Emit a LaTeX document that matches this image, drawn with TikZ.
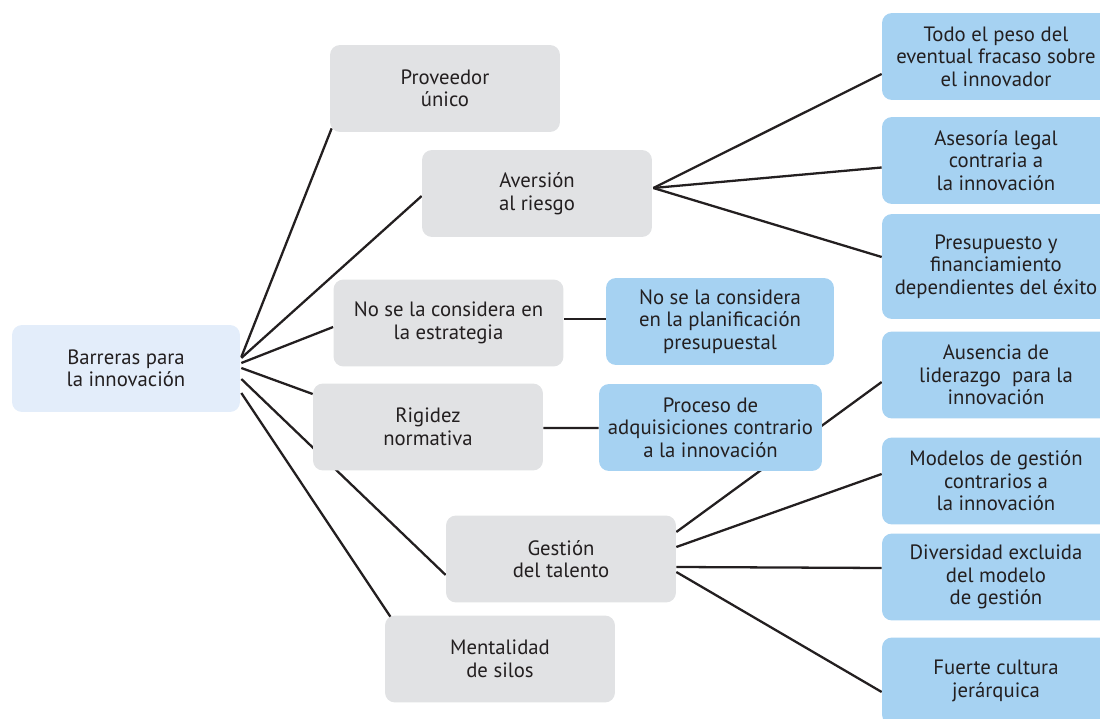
\documentclass[tikz,border=0pt]{standalone}
\usepackage{fontspec}
\setmainfont{PT Sans}
\usetikzlibrary{calc,backgrounds}
\definecolor{boxgray}{HTML}{E1E2E4}
\definecolor{boxblue}{HTML}{A6D2F2}
\definecolor{rootblue}{HTML}{E3EDFA}
\definecolor{inkgray}{HTML}{231F20}
\begin{document}
\begin{tikzpicture}[x=0.02cm,y=-0.02cm,
  box/.style={rounded corners=0.2cm, align=center, inner sep=0pt,
    minimum width=4.6cm, minimum height=1.74cm, text=inkgray,
    font=\fontsize{11.8}{12.8}\selectfont},
  graybox/.style={box, fill=boxgray},
  bluebox/.style={box, fill=boxblue, minimum width=4.56cm},
  link/.style={draw=inkgray, line width=1.3pt}]
\useasboundingbox (0,0) rectangle (1100,719);
\node[box, fill=rootblue, minimum width=4.56cm] (barr) at (126,368.5) {Barreras para\\la innovación};
\node[graybox] (prov) at (445,88.5) {Proveedor\\único};
\node[graybox] (avers) at (537,193.5) {Aversión\\al riesgo};
\node[graybox] (estr) at (448.5,323) {No se la considera en\\la estrategia};
\node[graybox] (rig) at (428,427) {Rigidez\\normativa};
\node[graybox] (gest) at (561,559) {Gestión\\del talento};
\node[graybox] (silos) at (500,659) {Mentalidad\\de silos};
\node[bluebox] (plan) at (720,321.5) {No se la considera\\en la planificación\\presupuestal};
\node[bluebox, minimum width=4.46cm] (proc) at (710.5,427.5) {Proceso de\\adquisiciones contrario\\a la innovación};
\node[bluebox] (todo) at (996,56.5) {Todo el peso del\\eventual fracaso sobre\\el innovador};
\node[bluebox] (ases) at (996,160.5) {Asesoría legal\\contraria a\\la innovación};
\node[bluebox, minimum height=2.1cm] (pres) at (996,266.5) {Presupuesto y\\financiamiento\\dependientes del éxito};
\node[bluebox] (aus) at (996,375) {Ausencia de\\liderazgo~ para la\\innovación};
\node[bluebox] (mod) at (996,481) {Modelos de gestión\\contrarios a\\la innovación};
\node[bluebox] (div) at (996,577) {Diversidad excluida\\del modelo\\de gestión};
\node[bluebox] (fue) at (996,681) {Fuerte cultura\\jerárquica};
\begin{scope}[on background layer]
\draw[link] ($(barr.east)+(1,-11.5)$) -- ($(prov.south west)+(2,-4)$);
\draw[link] ($(barr.east)+(1,-10.5)$) -- ($(avers.west)+(0,2.5)$);
\draw[link] ($(barr.east)+(1,-5.5)$) -- ($(estr.west)+(0,4)$);
\draw[link] ($(barr.east)+(1,-0.5)$) -- ($(rig.west)+(0,-33)$);
\draw[link] ($(barr.east)+(1,10.5)$) -- ($(gest.west)+(0,16)$);
\draw[link] ($(barr.east)+(1,24.5)$) -- ($(silos.north west)+(6,2)$);
\foreach \dest/\dy in {todo/17.5, ases/7, pres/-9.5}
  \draw[link] ($(avers.east)+(1,-5.5)$) -- ($(\dest.west)+(0,\dy)$);
\draw[link] ($(estr.east)+(0,-4)$) -- ($(plan.west)+(0,-2.5)$);
\draw[link] ($(rig.east)+(0,1)$) -- ($(proc.west)+(0,0.5)$);
\draw[link] ($(gest.east)+(0,-27)$) -- ($(aus.west)+(0,7)$);
\draw[link] ($(gest.east)+(0,-12)$) -- ($(mod.west)+(0,-7)$);
\draw[link] ($(gest.east)+(0,8)$) -- ($(div.west)+(0,-9)$);
\draw[link] ($(gest.east)+(0,13)$) -- ($(fue.west)+(0,11)$);
\end{scope}
\end{tikzpicture}
\end{document}
